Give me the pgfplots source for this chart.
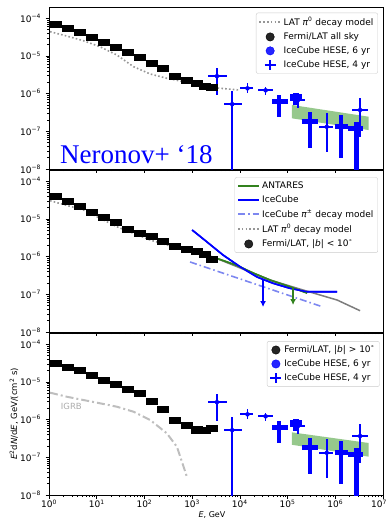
\documentclass[border=0pt]{standalone}
\usepackage{fontspec}
\setmainfont{DejaVu Sans}
\newfontfamily\timesfont{Liberation Serif}
\usepackage{pgfplots}
\usepackage{pgfplotstable}
\pgfplotsset{compat=1.18}
\usetikzlibrary{arrows.meta}

\definecolor{icblue}{RGB}{0,0,255}
\definecolor{antgreen}{RGB}{50,130,30}
\definecolor{pilblue}{RGB}{125,135,240}
\definecolor{modgray}{RGB}{150,150,150}
\definecolor{solgray}{RGB}{125,125,125}
\definecolor{igrbgray}{RGB}{190,190,190}
\definecolor{bandgreen}{RGB}{150,200,140}
\definecolor{legframe}{RGB}{204,204,204}

\pgfdeclareplotmark{latbox}{\pgfpathrectangle{\pgfqpoint{-6pt}{-3.5pt}}{\pgfqpoint{12pt}{7pt}}\pgfusepathqfill}

% IceCube HESE 4 yr
\pgfplotstableread{
x      xl     xh     y       yl      yh
3311   2138   5370   2.9e-6  9.0e-7  4.9e-6
6918   4677   11220  5.24e-7 1e-9    1.14e-6
14454  10000  19055  1.38e-6 1.02e-6 1.87e-6
34674  23988  50119  1.22e-6 9.2e-7  1.52e-6
165959 112202 234423 6.76e-7 4.15e-7 1.04e-6
660693 457088 891251 1.32e-7 2.88e-8 3.0e-7
3.31e6 2.24e6 4.9e6  3.67e-7 7.2e-8  7.5e-7
}\icfour
% IceCube HESE 6 yr
\pgfplotstableread{
x      xl     xh      y       yl      yh
66069  46774  102329  6.1e-7  2.44e-7 9.2e-7
144544 112202 199526  8.3e-7  5.0e-7  1.02e-6
295121 199526 436516  1.8e-7  3.54e-8 3.31e-7
1.318e6 1e6   1.86e6  1.32e-7 1.92e-8 2.7e-7
2.82e6 1.86e6 3.8e6   1.2e-7  1e-9    1.8e-7
}\icsix
% Fermi/LAT
\pgfplotstableread{
x     all     low     high
1.41  7.0e-5  3.88e-5 3.11e-5
2.51  5.4e-5  2.86e-5 2.44e-5
4.47  4.12e-5 2.11e-5 1.95e-5
7.94  3.11e-5 1.50e-5 1.46e-5
14.1  2.24e-5 1.08e-5 1.12e-5
25.1  1.65e-5 7.93e-6 8.28e-6
44.7  1.22e-5 5.30e-6 6.37e-6
79.4  9.2e-6  4.15e-6 4.78e-6
141   6.4e-6  3.37e-6 3.11e-6
251   4.5e-6  2.59e-6 1.91e-6
447   2.8e-6  1.91e-6 9.75e-7
794   2.2e-6  1.50e-6 6.89e-7
1259  1.87e-6 1.35e-6 5.30e-7
1862  1.59e-6 1.17e-6 4.99e-7
2630  1.41e-6 8.13e-7 5.98e-7
}\lat

\pgfplotsset{
  every axis/.append style={
    scale only axis,
    width=334pt, height=162pt,
    xmin=1, xmax=1e7, ymin=1e-8, ymax=1.98e-4,
    xtick={1,10,100,1000,1e4,1e5,1e6,1e7},
    ytick={1e-8,1e-7,1e-6,1e-5,1e-4},
    yticklabels={10\textsuperscript{−8},10\textsuperscript{−7},10\textsuperscript{−6},10\textsuperscript{−5},10\textsuperscript{−4}},
    tick align=outside, xtick pos=bottom, ytick pos=left,
    axis line style={line width=0.9pt},
    major tick style={black, line width=0.6pt},
    minor tick style={black, line width=0.5pt},
    major tick length=3.5pt, minor tick length=2pt,
    ticklabel style={font=\fontsize{9}{10}\selectfont},
    yticklabel style={xshift=-1pt},
    xticklabel style={inner sep=1pt},
    legend cell align=left,
    legend style={font=\fontsize{9}{10.5}\selectfont, draw=legframe, rounded corners=2pt,
      fill=white, fill opacity=0.85, text opacity=1, row sep=1.6pt, inner sep=2.5pt,
      anchor=north east},
  },
  every axis plot/.append style={legend image code/.code={\draw[#1] (0cm,0cm) -- (0.75cm,0cm);}},
  icfourstyle/.style={only marks, mark=none, icblue,
    error bars/x dir=both, error bars/y dir=both, error bars/x explicit, error bars/y explicit,
    error bars/error mark=none,
    error bars/error bar style={line width=1.7pt, icblue}},
  icsixstyle/.style={only marks, mark=*, mark size=3pt, icblue,
    error bars/x dir=both, error bars/y dir=both, error bars/x explicit, error bars/y explicit,
    error bars/error mark=none,
    error bars/error bar style={line width=4.8pt, icblue}},
  fourleg/.style={legend image code/.code={\draw[icblue,line width=1.7pt] (0.375cm,-5pt)--(0.375cm,5pt) (0.375cm-5.5pt,0pt)--(0.375cm+5.5pt,0pt);}},
  sixleg/.style={legend image code/.code={\fill[icblue] (0.375cm,0pt) circle (4.2pt);}},
  latleg/.style={legend image code/.code={\fill[black] (0.375cm,0pt) circle (4.2pt);}},
}

\begin{document}
\begin{tikzpicture}[x=1pt,y=1pt]
\useasboundingbox (0,0) rectangle (388,-519);

% ---------------- top panel
\begin{loglogaxis}[at={(49pt,-169pt)}, anchor=south west, xticklabels={},
  legend style={at={(rel axis cs:0.985,0.965)}}]
\addplot[fill=bandgreen, draw=none, forget plot] coordinates {(1.23e5,5.0e-7) (5.0e6,2.44e-7) (5.0e6,1.08e-7) (1.23e5,2.21e-7)};
\addplot[modgray, line width=1.6pt, dash pattern=on 1.6pt off 2.2pt] coordinates {
(1.05,4.39e-5) (2.34,3.37e-5) (5.25,2.53e-5) (11.7,1.75e-5) (26.3,1.06e-5) (58.9,5.18e-6)
(132,3.31e-6) (295,2.55e-6) (661,2.07e-6) (1479,1.87e-6) (3311,1.41e-6) (10000,1.24e-6)};
\addlegendentry{LAT \textit{π}\textsuperscript{0} decay model}
\addplot[only marks, mark=latbox, black, latleg] table[x=x,y=all] \lat;
\addlegendentry{Fermi/LAT all sky}
\addplot[sixleg, icsixstyle] table[x=x, y=y,
    x error plus expr=\thisrow{xh}-\thisrow{x}, x error minus expr=\thisrow{x}-\thisrow{xl},
    y error plus expr=\thisrow{yh}-\thisrow{y}, y error minus expr=\thisrow{y}-\thisrow{yl}] \icsix;
\addlegendentry{IceCube HESE, 6 yr}
\addplot[fourleg, icfourstyle] table[x=x, y=y,
    x error plus expr=\thisrow{xh}-\thisrow{x}, x error minus expr=\thisrow{x}-\thisrow{xl},
    y error plus expr=\thisrow{yh}-\thisrow{y}, y error minus expr=\thisrow{y}-\thisrow{yl}] \icfour;
\addlegendentry{IceCube HESE, 4 yr}
\node[anchor=base west, text=icblue, font=\timesfont\fontsize{27}{27}\selectfont, inner sep=0pt] at (rel axis cs:0.033,0.037) {Neronov+ ‘18};
\end{loglogaxis}

% ---------------- middle panel
\begin{loglogaxis}[at={(49pt,-332pt)}, anchor=south west, xticklabels={},
  legend style={at={(rel axis cs:0.985,0.955)}}]
\addplot[antgreen, line width=1.6pt] coordinates {
(2742,9.75e-7) (8730,5.81e-7) (18920,3.67e-7) (42950,2.39e-7) (112800,1.59e-7) (256400,1.08e-7)};
\addlegendentry{ANTARES}
\addplot[icblue, line width=1.6pt] coordinates {
(1000,5.08e-6) (2051,2.44e-6) (4446,1.10e-6) (10093,5.39e-7) (22900,2.88e-7) (49660,1.96e-7)
(112800,1.44e-7) (256400,1.17e-7) (1.09e6,1.17e-7)};
\addlegendentry{IceCube}
\addplot[pilblue, line width=1.6pt, dash pattern=on 7pt off 3pt on 1.5pt off 3pt] coordinates {
(904,7.2e-7) (5.55e5,4.6e-8)};
\addlegendentry{IceCube \textit{π}\textsuperscript{±} decay model}
\addplot[modgray, line width=1.6pt, dash pattern=on 1.6pt off 2.2pt] coordinates {
(1.05,3.04e-5) (5.25,1.72e-5) (26.3,6.21e-6) (58.9,4.15e-6) (132,2.76e-6) (295,2.03e-6)
(661,1.50e-6) (1479,1.24e-6)};
\addlegendentry{LAT \textit{π}\textsuperscript{0} decay model}
\addplot[only marks, mark=latbox, black, latleg] table[x=x,y=low] \lat;
\addlegendentry{Fermi/LAT, |\textit{b}| < 10\textsuperscript{∘}}
\addplot[solgray, line width=1.5pt, forget plot] coordinates {
(1479,1.24e-6) (2742,9.75e-7) (42950,2.39e-7) (211300,1.30e-7) (1.09e6,7.06e-8) (3.31e6,3.67e-8)};
\addplot[antgreen, line width=1.6pt, forget plot] coordinates {
(2742,9.75e-7) (8730,5.81e-7) (18920,3.67e-7) (42950,2.39e-7) (112800,1.59e-7) (256400,1.08e-7)};
\addplot[icblue, line width=1.6pt, forget plot] coordinates {
(1000,5.08e-6) (2051,2.44e-6) (4446,1.10e-6) (10093,5.39e-7) (22900,2.88e-7) (49660,1.96e-7)
(112800,1.44e-7) (256400,1.17e-7) (1.09e6,1.17e-7)};
\addplot[icblue, line width=1.6pt, -{Latex[length=6pt,width=6pt]}, forget plot] coordinates {(30620,2.39e-7) (30620,4.6e-8)};
\addplot[antgreen, line width=1.6pt, -{Latex[length=6pt,width=6pt]}, forget plot] coordinates {(130300,1.56e-7) (130300,5.2e-8)};
\end{loglogaxis}

% ---------------- bottom panel
\begin{loglogaxis}[at={(49pt,-495pt)}, anchor=south west,
  xticklabels={10\textsuperscript{0},10\textsuperscript{1},10\textsuperscript{2},10\textsuperscript{3},10\textsuperscript{4},10\textsuperscript{5},10\textsuperscript{6},\makebox[8pt][r]{10\textsuperscript{7}}},
  legend style={at={(rel axis cs:0.99,0.95)}}]
\addplot[fill=bandgreen, draw=none, forget plot] coordinates {(1.23e5,4.6e-7) (5.0e6,2.4e-7) (5.0e6,1.04e-7) (1.23e5,2.15e-7)};
\addplot[igrbgray, line width=2pt, dash pattern=on 8pt off 3pt on 2pt off 3pt, forget plot] coordinates {
(1.05,5.18e-6) (2.34,4.05e-6) (5.25,3.31e-6) (11.7,2.71e-6) (26.3,2.2e-6) (58.9,1.62e-6)
(132,9.75e-7) (295,4.33e-7) (479,1.91e-7) (776,3.05e-8)};
\node[anchor=west, text=igrbgray!90!black, font=\fontsize{8.5}{9}\selectfont] at (axis cs:1.5,2.3e-6) {IGRB};
\addplot[only marks, mark=latbox, black, latleg] table[x=x,y=high] \lat;
\addlegendentry{Fermi/LAT, |\textit{b}| > 10\textsuperscript{∘}}
\addplot[sixleg, icsixstyle] table[x=x, y=y,
    x error plus expr=\thisrow{xh}-\thisrow{x}, x error minus expr=\thisrow{x}-\thisrow{xl},
    y error plus expr=\thisrow{yh}-\thisrow{y}, y error minus expr=\thisrow{y}-\thisrow{yl}] \icsix;
\addlegendentry{IceCube HESE, 6 yr}
\addplot[fourleg, icfourstyle] table[x=x, y=y,
    x error plus expr=\thisrow{xh}-\thisrow{x}, x error minus expr=\thisrow{x}-\thisrow{xl},
    y error plus expr=\thisrow{yh}-\thisrow{y}, y error minus expr=\thisrow{y}-\thisrow{yl}] \icfour;
\addlegendentry{IceCube HESE, 4 yr}
\end{loglogaxis}

\node[rotate=90, font=\fontsize{8.5}{9}\selectfont] at (14,-414) {\textit{E}\textsuperscript{2}d\textit{N}/d\textit{E}, GeV/(cm\textsuperscript{2} s)};
\node[anchor=base, font=\fontsize{8}{9}\selectfont, inner sep=0pt] at (212,-517) {\textit{E}, GeV};
\end{tikzpicture}
\end{document}
